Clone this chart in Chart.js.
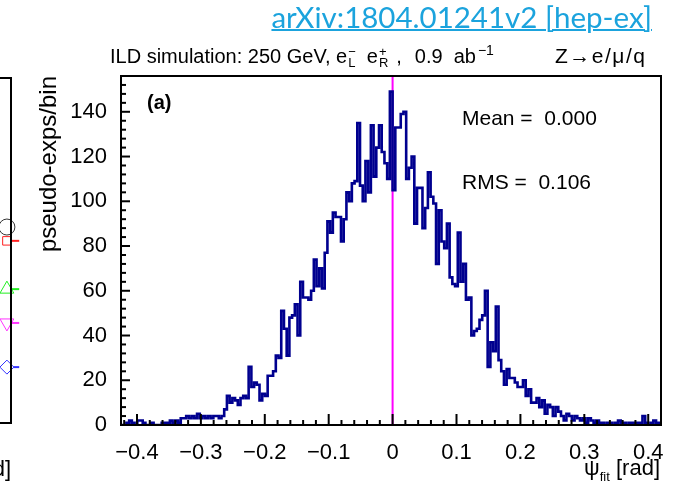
<!DOCTYPE html>
<html>
<head>
<meta charset="utf-8">
<script src="https://cdn.jsdelivr.net/npm/chart.js@4.4.1/dist/chart.umd.min.js"></script>
<style>
  html, body { margin: 0; padding: 0; background: #fff; }
  #wrap { position: relative; width: 684px; height: 493px; overflow: hidden;
          font-family: 'Liberation Sans', Arial, sans-serif; color: #000; }
  canvas { position: absolute; top: 0; }
  .txt { position: absolute; white-space: pre; line-height: 1; }
  .ss { display: inline-block; vertical-align: -4px; font-size: 13px; line-height: 11px; margin-left: 1px; }
  .ss span { display: block; }
  sup { font-size: 14px; vertical-align: 8px; line-height: 0; margin-left: 2px; }
  sub { font-size: 13px; vertical-align: -6px; line-height: 0; }
  #arxiv { right: 32px; top: 2px; font-family: Lato, 'Open Sans', sans-serif; font-size: 29.5px;
           color: #1ba3dd; text-decoration: underline; text-decoration-thickness: 2px; }
</style>
</head>
<body>
<div id="wrap">
  <canvas id="side" width="100" height="493" style="left:-80px"></canvas>
  <canvas id="hist" width="684" height="493" style="left:0"></canvas>

  <div class="txt" id="arxiv">arXiv:1804.01241v2 [hep-ex]</div>
  <div class="txt" style="left:110px; top:46px; font-size:20px;">ILD simulation: 250 GeV, e<span class="ss" style="margin-right:11px"><span>−</span><span>L</span></span>e<span class="ss" style="margin-right:8px"><span>+</span><span>R</span></span>,<span style="margin-left:13px">0.9</span><span style="margin-left:11px">ab</span><sup>−1</sup></div>
  <div class="txt" style="left:555px; top:45px; font-size:21px; letter-spacing:1.5px;">Z→e/μ/q</div>

  <div class="txt" style="left:147px; top:92px; font-size:20px; font-weight:bold;">(a)</div>
  <div class="txt" style="left:462px; top:107px; font-size:21px;">Mean =  0.000</div>
  <div class="txt" style="left:462px; top:171px; font-size:21px;">RMS =  0.106</div>

  <div class="txt" style="right:24px; top:457px; font-size:22px;">ψ<sub>fit</sub> [rad]</div>
</div>

<script>
// histogram binning for psi_fit
const histLo = -0.425;
const binWidth = 0.00425;
const counts = [
  0, 0, 0, 1, 2, 1, 0, 2, 2, 1,
  0, 0, 1, 0, 0, 0, 1, 1, 1, 2,
  1, 2, 1, 3, 3, 4, 3, 4, 3, 5,
  3, 4, 3, 4, 3, 4, 4, 3, 4, 7,
  13, 10, 12, 11, 9, 12, 13, 12, 26, 17,
  19, 18, 11, 14, 13, 22, 22, 24, 31, 30,
  51, 43, 31, 48, 49, 54, 40, 64, 57, 57,
  56, 60, 74, 62, 70, 61, 77, 91, 86, 95,
  93, 93, 82, 92, 104, 100, 108, 109, 135, 107,
  100, 118, 104, 134, 111, 124, 134, 122, 117, 110,
  149, 105, 133, 133, 139, 140, 110, 115, 120, 90,
  106, 106, 88, 97, 113, 102, 99, 72, 96, 82,
  79, 90, 66, 63, 62, 86, 64, 72, 56, 57,
  40, 42, 43, 47, 49, 60, 26, 37, 33, 53,
  29, 24, 18, 25, 21, 21, 19, 17, 17, 20,
  13, 16, 10, 10, 12, 8, 11, 5, 9, 8,
  4, 8, 6, 4, 2, 5, 4, 2, 4, 3,
  2, 3, 1, 3, 2, 1, 2, 1, 1, 0,
  1, 1, 0, 1, 2, 1, 1, 0, 1, 1,
  0, 1, 1, 4, 1, 0, 1, 2, 1
];
const meanValue = 0.000;

// axis ranges
const xMin = -0.425, xMax = 0.42;
const yMin = 0, yMax = 156;

// neighbouring panel (only its right edge is in view)
const sideX = [0.95, 0.95, 0.95, 0.95, 0.95];
const sideY = [0.568, 0.528, 0.388, 0.290, 0.162];
const sideColors = ['#333333', '#ff2020', '#22ee22', '#ff33ff', '#3333ff'];
const sideStyles = ['circle', 'rect', 'triangle', 'triangle', 'rectRot'];
const sideSizes = [8, 6, 8, 8, 7];

const FONT = "'Liberation Sans', Arial, sans-serif";

// step outline: one point per bin edge
const histPoints = counts.map((c, i) => ({ x: histLo + i * binWidth, y: c }));
histPoints.push({ x: histLo + counts.length * binWidth, y: counts[counts.length - 1] });

function line(ctx, x1, y1, x2, y2) {
  ctx.beginPath();
  ctx.moveTo(x1, y1);
  ctx.lineTo(x2, y2);
  ctx.stroke();
}

// frame box around the plot area
const frame = {
  id: 'frame',
  afterDatasetsDraw(chart) {
    const { ctx, chartArea: a } = chart;
    ctx.save();
    ctx.strokeStyle = '#000';
    ctx.lineWidth = 2;
    ctx.strokeRect(a.left, a.top, a.right - a.left, a.bottom - a.top);
    ctx.restore();
  }
};

// inward major/minor tick marks, ROOT style
const innerTicks = {
  id: 'innerTicks',
  afterDatasetsDraw(chart) {
    const { ctx, chartArea: a, scales: { x, y } } = chart;
    ctx.save();
    ctx.strokeStyle = '#000';
    ctx.lineWidth = 2;
    for (let k = 0; k * 4 <= yMax; k++) {
      const py = y.getPixelForValue(k * 4);
      line(ctx, a.left, py, a.left + (k % 5 === 0 ? 9 : 5), py);
    }
    for (let k = -21; k <= 21; k++) {
      const px = x.getPixelForValue(k * 0.02);
      line(ctx, px, a.bottom, px, a.bottom - (k % 5 === 0 ? 11 : 5));
    }
    ctx.restore();
  }
};

new Chart(document.getElementById('hist'), {
  type: 'line',
  data: {
    datasets: [
      {
        data: histPoints,
        stepped: 'after',
        borderColor: '#00008f',
        borderWidth: 2.6,
        pointRadius: 0,
        fill: false
      },
      {
        data: [{ x: meanValue, y: yMin }, { x: meanValue, y: yMax }],
        borderColor: '#ff00ff',
        borderWidth: 2,
        pointRadius: 0
      }
    ]
  },
  options: {
    responsive: false,
    animation: false,
    layout: { padding: { left: 35, top: 76, right: 23, bottom: 0 } },
    plugins: { legend: { display: false }, tooltip: { enabled: false } },
    scales: {
      x: {
        type: 'linear',
        min: xMin,
        max: xMax,
        grid: { display: false },
        border: { display: false },
        ticks: {
          stepSize: 0.1,
          includeBounds: false,
          padding: 7,
          maxRotation: 0,
          color: '#000',
          font: { family: FONT, size: 22 },
          callback: v => {
            const r = Math.round(v * 10) / 10;
            if (r === 0) return '0';
            return (r < 0 ? '\u2212' : '') + Math.abs(r).toFixed(1);
          }
        },
        afterFit(scale) { scale.height = 68; }
      },
      y: {
        min: yMin,
        max: yMax,
        grid: { display: false },
        border: { display: false },
        ticks: {
          stepSize: 20,
          includeBounds: false,
          padding: 6,
          color: '#000',
          font: { family: FONT, size: 22 }
        },
        title: {
          display: true,
          text: 'pseudo-exps/bin',
          align: 'end',
          color: '#000',
          font: { family: FONT, size: 24 },
          padding: { top: 0, bottom: 0 }
        },
        afterFit(scale) { scale.width = 86; }
      }
    }
  },
  plugins: [innerTicks, frame]
});

// right edge of the neighbouring panel
new Chart(document.getElementById('side'), {
  type: 'line',
  data: {
    datasets: sideY.map((yv, i) => ({
      data: i === 0 ? [{ x: sideX[i], y: yv }] : [{ x: sideX[i], y: yv }, { x: 1.1, y: yv }],
      borderColor: sideColors[i],
      borderWidth: 2,
      pointStyle: sideStyles[i],
      rotation: i === 3 ? 180 : 0,
      pointRadius: [sideSizes[i], 0],
      pointBorderWidth: 1,
      pointBackgroundColor: '#fff',
      clip: false
    }))
  },
  options: {
    responsive: false,
    animation: false,
    layout: { padding: { left: 0, top: 78, right: 2, bottom: 0 } },
    plugins: { legend: { display: false }, tooltip: { enabled: false } },
    scales: {
      x: {
        type: 'linear',
        min: 0,
        max: 1,
        grid: { display: false },
        border: { display: false },
        ticks: { display: false },
        title: {
          display: true,
          text: 'ψ [rad]',
          align: 'end',
          color: '#000',
          font: { family: FONT, size: 22 },
          padding: { top: 0, bottom: 10 }
        },
        afterFit(scale) { scale.height = 70; }
      },
      y: { display: false, min: 0, max: 1 }
    }
  },
  plugins: [frame]
});
</script>
</body>
</html>
